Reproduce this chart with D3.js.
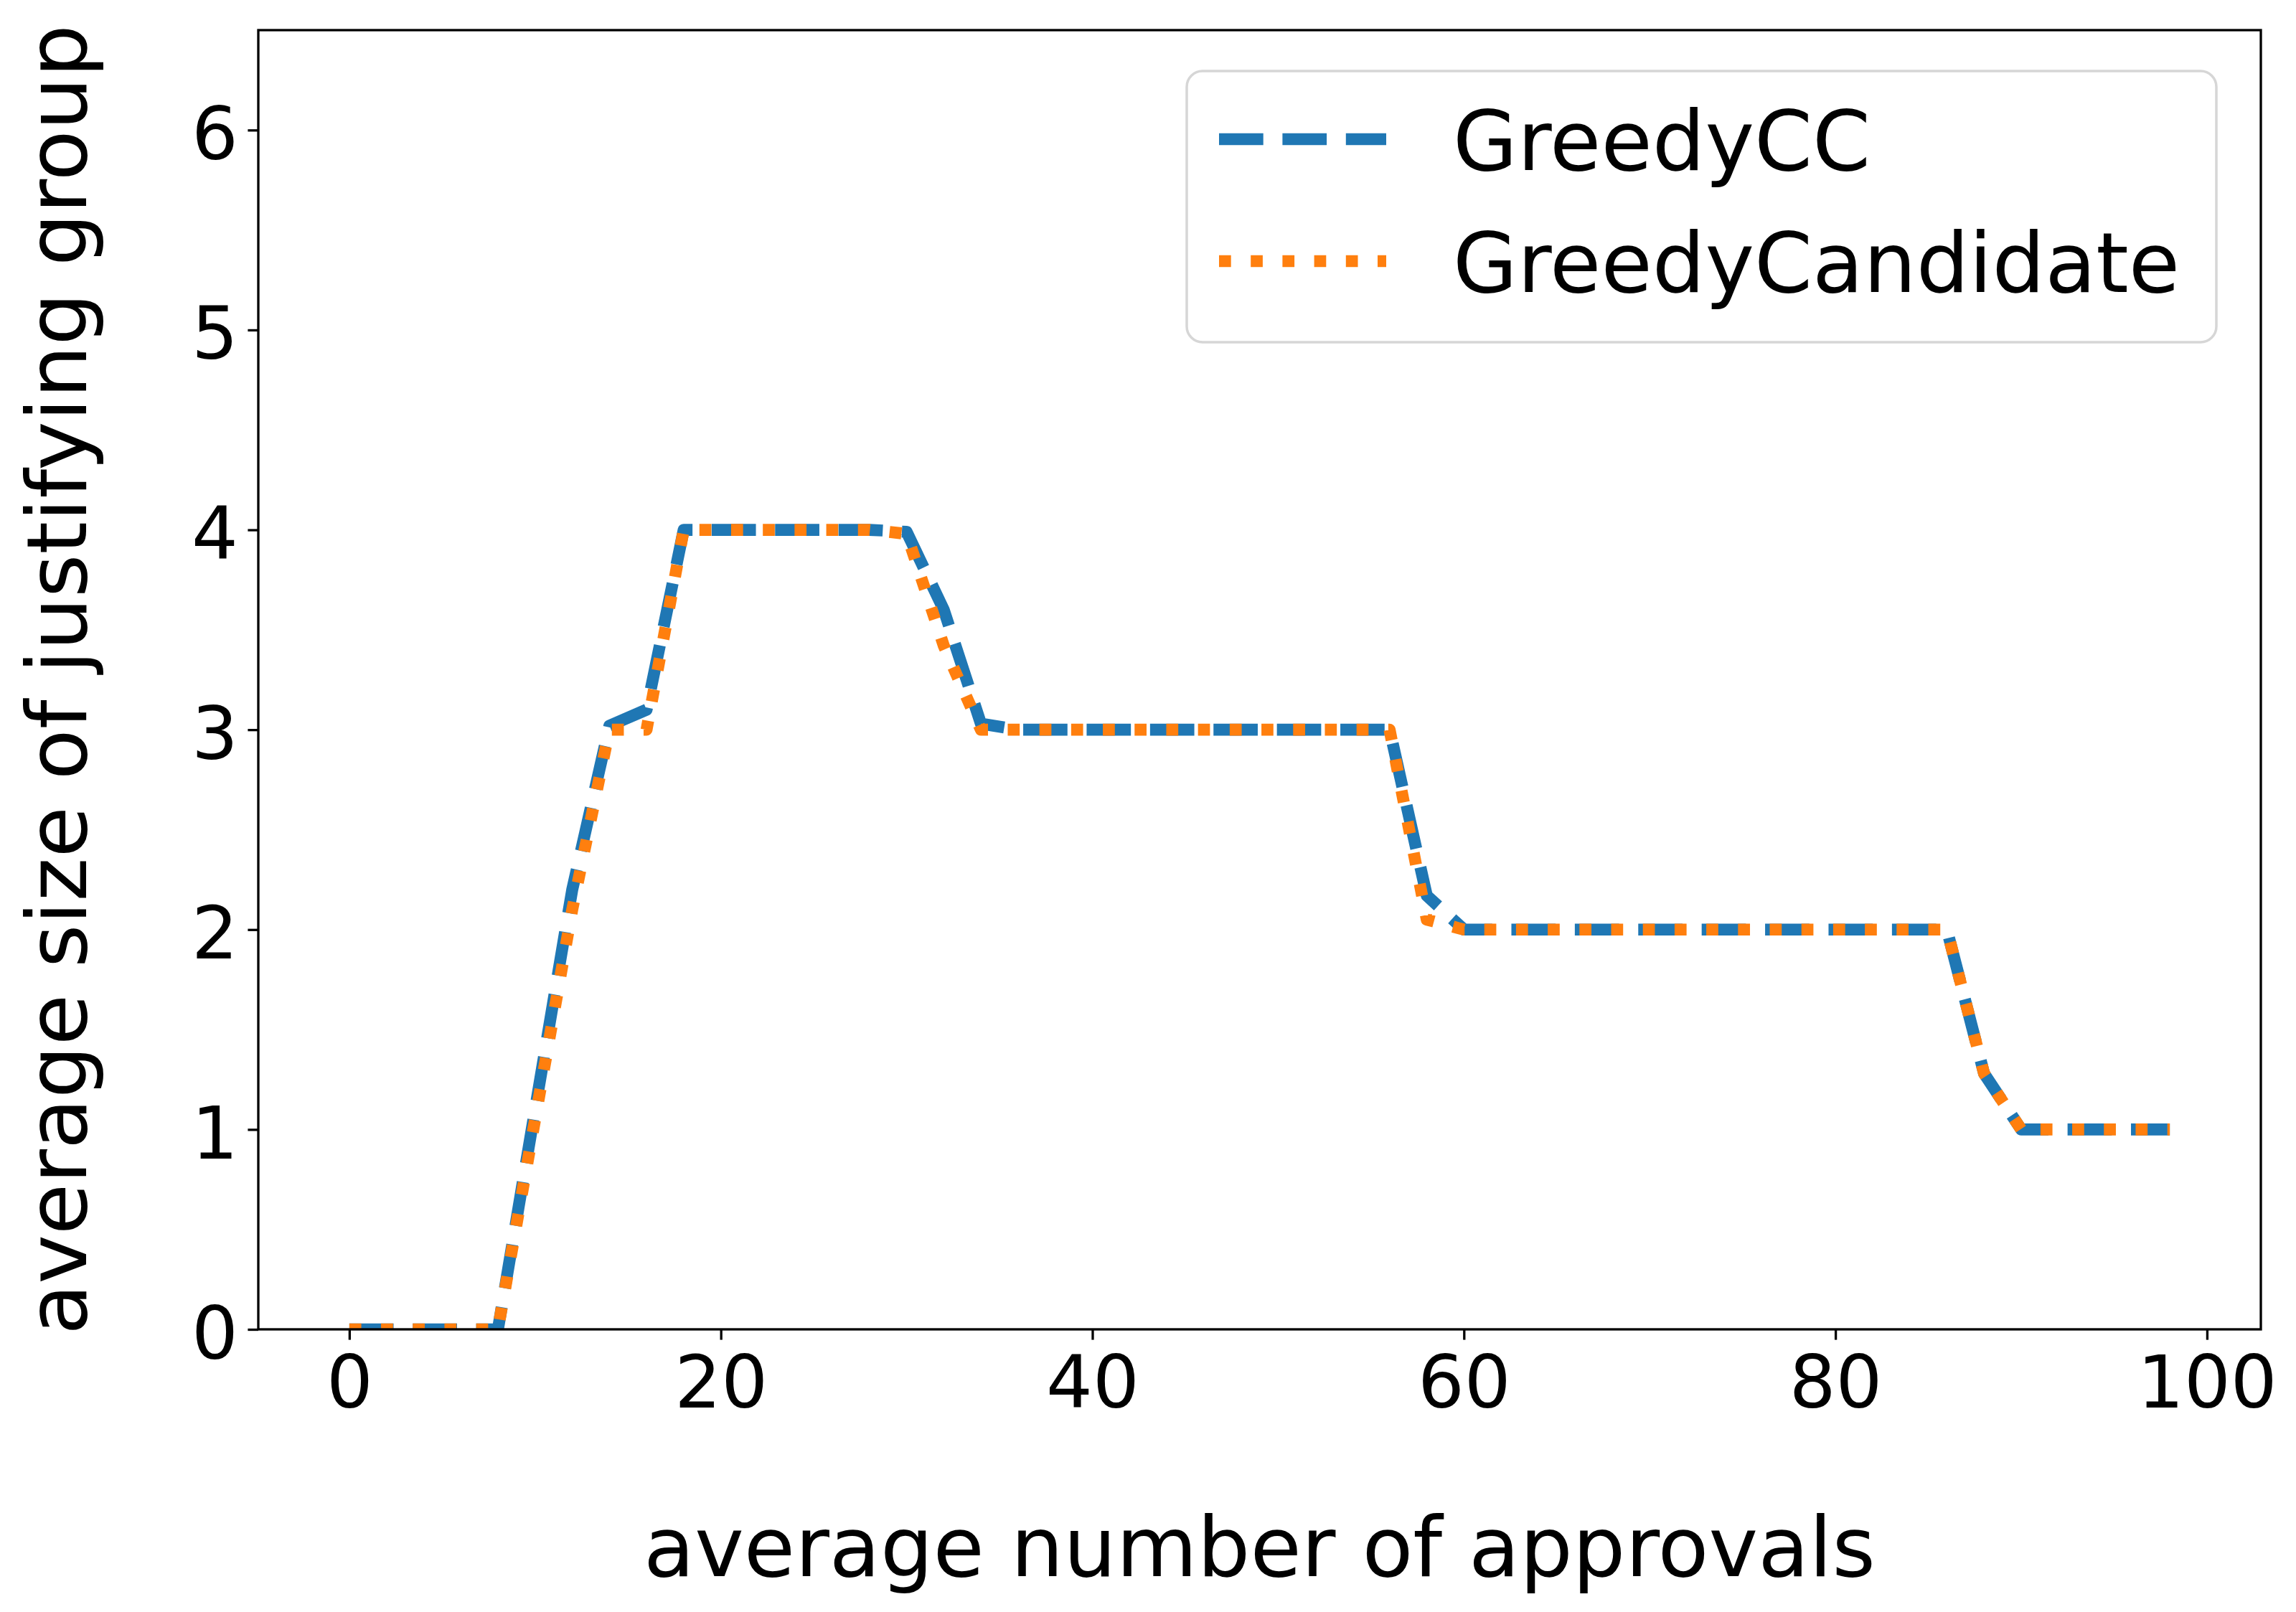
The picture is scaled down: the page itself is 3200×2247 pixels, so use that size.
<!DOCTYPE html>
<html>
<head>
<meta charset="utf-8">
<script src="https://cdn.jsdelivr.net/npm/d3@7"></script>
<style>
  body { margin: 0; background: #fff; }
  text { font-family: "DejaVu Sans", sans-serif; fill: #000; }
</style>
</head>
<body>
<div id="viz"></div>
<script>
// data
var approvals = [0, 2, 4, 6, 8, 10, 12, 14, 16, 18, 20, 22, 24, 26, 28, 30, 32, 34, 36, 38,
                 40, 42, 44, 46, 48, 50, 52, 54, 56, 58, 60, 62, 64, 66, 68, 70, 72, 74, 76, 78,
                 80, 82, 84, 86, 88, 90, 92, 94, 96, 98];
var greedyCC = [0, 0, 0, 0, 0, 1.1, 2.2, 3.02, 3.1, 4, 4, 4, 4, 4, 4, 3.99, 3.6, 3.03, 3, 3,
                3, 3, 3, 3, 3, 3, 3, 3, 3, 2.17, 2, 2, 2, 2, 2, 2, 2, 2, 2, 2,
                2, 2, 2, 2, 1.28, 1, 1, 1, 1, 1];
var greedyCandidate = [0, 0, 0, 0, 0, 1.05, 2.1, 3, 3, 4, 4, 4, 4, 4, 4, 3.98, 3.42, 3, 3, 3,
                       3, 3, 3, 3, 3, 3, 3, 3, 3, 2.05, 2, 2, 2, 2, 2, 2, 2, 2, 2, 2,
                       2, 2, 2, 2, 1.28, 1, 1, 1, 1, 1];
var seriesNames = ["GreedyCC", "GreedyCandidate"];
var xTicks = [0, 20, 40, 60, 80, 100];
var yTicks = [0, 1, 2, 3, 4, 5, 6];

var W = 3200, H = 2247;
var margin = { top: 42, right: 49, bottom: 394, left: 360 },
    w = W - margin.left - margin.right,
    h = H - margin.top - margin.bottom,
    lw = 16.7,
    tickFont = 102,
    labelFont = 116;

var series = [
  { name: seriesNames[0], values: greedyCC, color: "#1f77b4", dash: "61.7,26.7" },
  { name: seriesNames[1], values: greedyCandidate, color: "#ff7f0e", dash: "16.7,27.5" }
];

var svg = d3.select("#viz").append("svg")
    .attr("width", W)
    .attr("height", H);

var g = svg.append("g")
    .attr("transform", "translate(" + margin.left + "," + margin.top + ")");

var x = d3.scaleLinear().domain([-4.9, 102.9]).range([0, w]);
var y = d3.scaleLinear().domain([0, 6.5]).range([h, 0]);

g.append("clipPath").attr("id", "plotclip")
  .append("rect").attr("width", w).attr("height", h);

var line = d3.line()
    .x(function(d, i) { return x(approvals[i]); })
    .y(function(d) { return y(d); });

g.append("g").attr("clip-path", "url(#plotclip)")
  .selectAll("path").data(series).enter()
  .append("path")
    .attr("d", function(s) { return line(s.values); })
    .attr("fill", "none")
    .attr("stroke", function(s) { return s.color; })
    .attr("stroke-width", lw)
    .attr("stroke-dasharray", function(s) { return s.dash; })
    .attr("stroke-linejoin", "round")
    .attr("stroke-linecap", "butt");

/* axes */
var xAxis = d3.axisBottom(x).tickValues(xTicks).tickFormat(d3.format("d"))
    .tickSize(14.6).tickPadding(14.6);
var yAxis = d3.axisLeft(y).tickValues(yTicks).tickFormat(d3.format("d"))
    .tickSize(14.6).tickPadding(14.6);

var gx = g.append("g").attr("transform", "translate(0," + h + ")").call(xAxis);
var gy = g.append("g").call(yAxis);
[gx, gy].forEach(function(a) {
  a.select(".domain").remove();
  a.selectAll(".tick line").attr("stroke", "#000").attr("stroke-width", 3.3);
  a.selectAll(".tick text").style("font-size", tickFont + "px").attr("fill", "#000");
});
gx.selectAll(".tick text").attr("dy", null).attr("y", 109);
gy.selectAll(".tick text").attr("dy", null).attr("x", -28).attr("y", 40);

g.append("rect")
    .attr("width", w).attr("height", h)
    .attr("fill", "none")
    .attr("stroke", "#000")
    .attr("stroke-width", 3.3);

/* axis labels */
svg.append("text")
    .attr("x", margin.left + w / 2)
    .attr("y", 2197)
    .attr("text-anchor", "middle")
    .style("font-size", labelFont + "px")
    .text("average number of approvals");

svg.append("text")
    .attr("transform", "translate(120," + (margin.top + h / 2) + ") rotate(-90)")
    .attr("text-anchor", "middle")
    .style("font-size", labelFont + "px")
    .text("average size of justifying group");

/* legend */
var legend = svg.append("g").attr("transform", "translate(1654,99)");
legend.append("rect")
    .attr("width", 1435).attr("height", 378)
    .attr("rx", 22).attr("ry", 22)
    .attr("fill", "#fff").attr("fill-opacity", 0.8)
    .attr("stroke", "#d6d6d6").attr("stroke-width", 3.5);

var items = legend.selectAll(".item").data(series).enter()
  .append("g")
    .attr("class", "item")
    .attr("transform", function(d, i) { return "translate(0," + (95 + i * 170) + ")"; });

items.append("line")
    .attr("x1", 45).attr("x2", 278)
    .attr("stroke", function(d) { return d.color; })
    .attr("stroke-width", lw)
    .attr("stroke-dasharray", function(d) { return d.dash; });

items.append("text")
    .attr("x", 371)
    .attr("y", 43)
    .style("font-size", labelFont + "px")
    .text(function(d) { return d.name; });
</script>
</body>
</html>
